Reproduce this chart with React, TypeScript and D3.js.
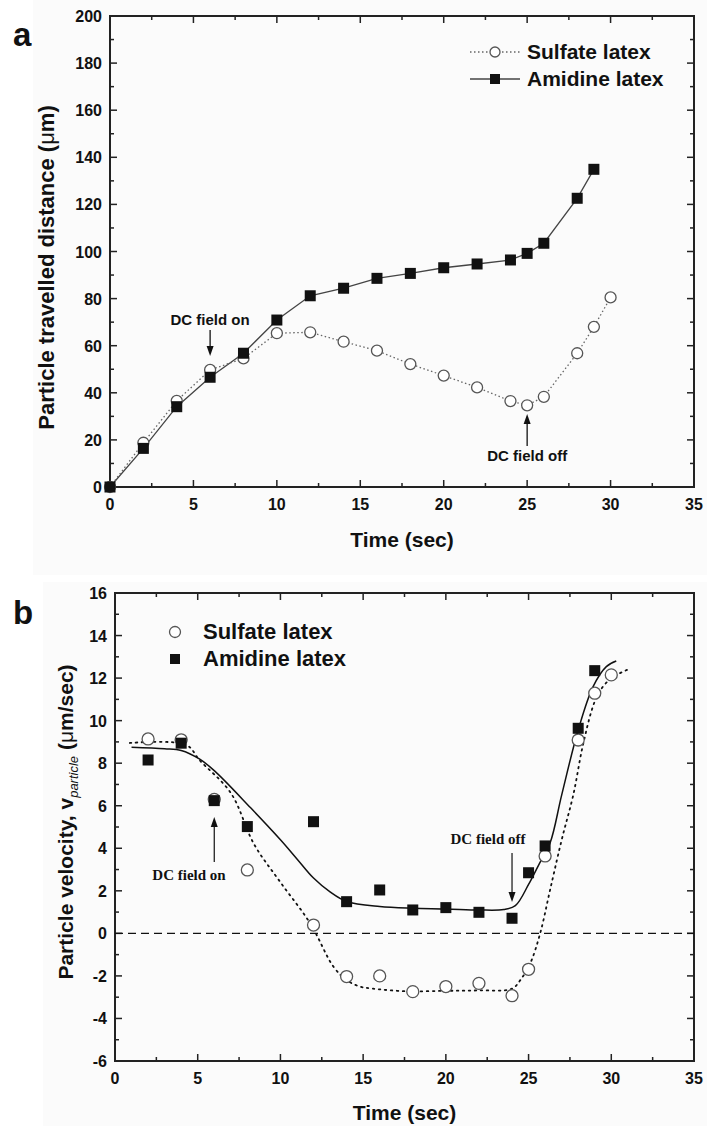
import React from 'react';
import * as d3 from 'd3';

// panel a: travelled distance (um)
const timeSulfateA = [0, 2, 4, 6, 8, 10, 12, 14, 16, 18, 20, 22, 24, 25, 26, 28, 29, 30];
const distSulfateA = [0, 18.8, 36.6, 49.7, 54.6, 65.3, 65.7, 61.7, 57.9, 52.2, 47.3, 42.3, 36.5, 34.7, 38.3, 56.8, 68, 80.5];
const timeAmidineA = [0, 2, 4, 6, 8, 10, 12, 14, 16, 18, 20, 22, 24, 25, 26, 28, 29];
const distAmidineA = [0, 16.4, 34.1, 46.6, 56.8, 70.9, 81.2, 84.4, 88.6, 90.7, 93.1, 94.7, 96.4, 99.2, 103.5, 122.6, 134.9];

// panel b: velocity (um/sec)
const timeSulfateB = [2, 4, 6, 8, 12, 14, 16, 18, 20, 22, 24, 25, 26, 28, 29, 30];
const velSulfateB = [9.14, 9.1, 6.3, 2.98, 0.39, -2.03, -2.0, -2.74, -2.5, -2.35, -2.93, -1.69, 3.64, 9.09, 11.29, 12.15];
const timeAmidineB = [2, 4, 6, 8, 12, 14, 16, 18, 20, 22, 24, 25, 26, 28, 29];
const velAmidineB = [8.15, 8.94, 6.24, 5.02, 5.25, 1.49, 2.04, 1.1, 1.21, 0.99, 0.71, 2.85, 4.11, 9.64, 12.35];

// fitted curves in panel b
const fitSulfateT = [0.9, 4.3, 5.1, 7.0, 8.4, 10, 11.8, 13.2, 14.0, 14.8, 15.6, 17.6, 20, 22, 24, 24.5, 25.1, 25.7, 26.3, 27.0, 27.7, 28.3, 29.0, 29.5, 30.1, 31.0];
const fitSulfateV = [8.95, 8.86, 8.15, 6.6, 4.2, 2.4, 0.47, -1.56, -2.2, -2.5, -2.6, -2.72, -2.7, -2.68, -2.6, -2.2, -1.41, 0, 2.04, 4.39, 6.5, 8.9, 10.9, 11.6, 12.05, 12.4];
const fitAmidineT = [1, 3, 4, 5.1, 6, 8.2, 10, 11, 12, 13, 14, 16, 18, 20, 22, 23.5, 24.2, 25, 25.6, 26.3, 27, 28, 28.9, 29.7, 30.3];
const fitAmidineV = [8.75, 8.68, 8.6, 8.2, 7.65, 5.9, 4.4, 3.5, 2.6, 1.95, 1.5, 1.26, 1.18, 1.15, 1.1, 1.12, 1.3, 2.3, 3.2, 4.25, 6.5, 9.56, 11.6, 12.54, 12.8];

const xTicks = [0, 5, 10, 15, 20, 25, 30, 35];
const yTicksA = [0, 20, 40, 60, 80, 100, 120, 140, 160, 180, 200];
const yTicksB = [-6, -4, -2, 0, 2, 4, 6, 8, 10, 12, 14, 16];

const sans = '"Liberation Sans", Arial, sans-serif';
const serif = '"Liberation Serif", "Times New Roman", serif';

type Pt = [number, number];
const zip = (a: number[], b: number[]): Pt[] => a.map((v, i) => [v, b[i]]);

function Frame({ x, y, yTicks, yMinorStep, labelX }: any) {
  const [x0, x1] = x.range();
  const [y0, y1] = y.range();
  const xMinor = d3.range(0, 35.01, 2.5);
  const yMinor = d3.range(y.domain()[0], y.domain()[1] + 0.01, yMinorStep);
  return (
    <g>
      {xMinor.map((t: number) => {
        const major = t % 5 === 0;
        const l = major ? 7 : 4;
        return (
          <g key={'x' + t}>
            <line x1={x(t)} x2={x(t)} y1={y0} y2={y0 - l} stroke="#222" strokeWidth={1.5} />
            <line x1={x(t)} x2={x(t)} y1={y1} y2={y1 + l} stroke="#222" strokeWidth={1.5} />
          </g>
        );
      })}
      {yMinor.map((v: number) => {
        const major = yTicks.includes(Math.round(v * 100) / 100);
        const l = major ? 7 : 4;
        return (
          <g key={'y' + v}>
            <line x1={x0} x2={x0 + l} y1={y(v)} y2={y(v)} stroke="#222" strokeWidth={1.5} />
            <line x1={x1} x2={x1 - l} y1={y(v)} y2={y(v)} stroke="#222" strokeWidth={1.5} />
          </g>
        );
      })}
      <rect x={x0} y={y1} width={x1 - x0} height={y0 - y1} fill="none" stroke="#222" strokeWidth={2} />
      {xTicks.map((t) => (
        <text key={'xl' + t} x={x(t)} y={y0 + 23} textAnchor="middle" fontFamily={sans} fontWeight="bold" fontSize={16} fill="#111">
          {t}
        </text>
      ))}
      {yTicks.map((v: number) => (
        <text key={'yl' + v} x={x0 - labelX} y={y(v) + 6} textAnchor="end" fontFamily={sans} fontWeight="bold" fontSize={16} fill="#111">
          {v}
        </text>
      ))}
    </g>
  );
}

function Circles({ data, x, y, r = 5.5 }: any) {
  return (
    <g>
      {data.map((d: Pt, i: number) => (
        <circle key={i} cx={x(d[0])} cy={y(d[1])} r={r} fill="#fff" stroke="#555" strokeWidth={1.3} />
      ))}
    </g>
  );
}

function Squares({ data, x, y, s = 11 }: any) {
  return (
    <g>
      {data.map((d: Pt, i: number) => (
        <rect key={i} x={x(d[0]) - s / 2} y={y(d[1]) - s / 2} width={s} height={s} fill="#111" />
      ))}
    </g>
  );
}

function Arrow({ x, yFrom, yTo, sw = 1.3 }: any) {
  const dir = yTo > yFrom ? 1 : -1;
  return (
    <g>
      <line x1={x} x2={x} y1={yFrom} y2={yTo - dir * 8} stroke="#111" strokeWidth={sw} />
      <path d={`M${x - 3.5},${yTo - dir * 10}L${x},${yTo}L${x + 3.5},${yTo - dir * 10}Z`} fill="#111" />
    </g>
  );
}

export default function App() {
  // panel a
  const xa = d3.scaleLinear().domain([0, 35]).range([110, 694]);
  const ya = d3.scaleLinear().domain([0, 200]).range([487, 16]);
  const lineA = d3.line<Pt>().x((d) => xa(d[0])).y((d) => ya(d[1]));
  const sulfA = zip(timeSulfateA, distSulfateA);
  const amidA = zip(timeAmidineA, distAmidineA);

  // panel b
  const xb = d3.scaleLinear().domain([0, 35]).range([115, 694]);
  const yb = d3.scaleLinear().domain([-6, 16]).range([1061, 593]);
  const lineB = d3.line<Pt>().x((d) => xb(d[0])).y((d) => yb(d[1])).curve(d3.curveCatmullRom);
  const sulfB = zip(timeSulfateB, velSulfateB);
  const amidB = zip(timeAmidineB, velAmidineB);

  return (
    <svg width={707} height={1126} style={{ position: 'absolute', left: 0, top: 0 }}>
      <rect x={0} y={0} width={707} height={1126} fill="#fff" />
      <rect x={33} y={0} width={674} height={575} fill="#fbfbfb" />
      <rect x={43} y={582} width={664} height={544} fill="#fbfbfb" />

      {/* ---- panel a ---- */}
      <text x={13} y={46} fontFamily={sans} fontWeight="bold" fontSize={33} fill="#111">a</text>
      <Frame x={xa} y={ya} yTicks={yTicksA} yMinorStep={10} labelX={8} />
      <path d={lineA(amidA) || ''} fill="none" stroke="#444" strokeWidth={1.3} />
      <path d={lineA(sulfA) || ''} fill="none" stroke="#666" strokeWidth={1.3} strokeDasharray="1.5,2.5" />
      <Circles data={sulfA} x={xa} y={ya} />
      <Squares data={amidA} x={xa} y={ya} />

      <text x={xa(6)} y={325} textAnchor="middle" fontFamily={sans} fontWeight="bold" fontSize={15} fill="#111">DC field on</text>
      <Arrow x={xa(6)} yFrom={330} yTo={356} />
      <text x={xa(25)} y={461} textAnchor="middle" fontFamily={sans} fontWeight="bold" fontSize={15} fill="#111">DC field off</text>
      <Arrow x={xa(25)} yFrom={446} yTo={414} />

      <g fontFamily={sans} fontWeight="bold" fontSize={21} fill="#111">
        <line x1={470} x2={520} y1={52} y2={52} stroke="#666" strokeWidth={1.3} strokeDasharray="1.5,2.5" />
        <circle cx={495} cy={52} r={5} fill="#fff" stroke="#555" strokeWidth={1.3} />
        <text x={527} y={59}>Sulfate latex</text>
        <line x1={470} x2={520} y1={79} y2={79} stroke="#444" strokeWidth={1.3} />
        <rect x={490} y={74} width={10} height={10} fill="#111" />
        <text x={527} y={86}>Amidine latex</text>
      </g>

      <text transform={`translate(54,${(487 + 16) / 2 + 16}) rotate(-90)`} textAnchor="middle" fontFamily={sans} fontWeight="bold" fontSize={22} fill="#111">
        Particle travelled distance (<tspan fontWeight="normal">μ</tspan>m)
      </text>
      <text x={(110 + 694) / 2} y={547} textAnchor="middle" fontFamily={sans} fontWeight="bold" fontSize={21} fill="#111">Time (sec)</text>

      {/* ---- panel b ---- */}
      <text x={13} y={624} fontFamily={sans} fontWeight="bold" fontSize={33} fill="#111">b</text>
      <Frame x={xb} y={yb} yTicks={yTicksB} yMinorStep={1} labelX={8} />
      <line x1={xb(0)} x2={xb(35)} y1={yb(0)} y2={yb(0)} stroke="#111" strokeWidth={1.4} strokeDasharray="8,5" />
      <path d={lineB(zip(fitAmidineT, fitAmidineV)) || ''} fill="none" stroke="#111" strokeWidth={1.5} />
      <path d={lineB(zip(fitSulfateT, fitSulfateV)) || ''} fill="none" stroke="#111" strokeWidth={1.8} strokeDasharray="1.5,4.5" strokeLinecap="round" />
      <Circles data={sulfB} x={xb} y={yb} r={6} />
      <Squares data={amidB} x={xb} y={yb} s={11} />

      <text x={189} y={880} textAnchor="middle" fontFamily={serif} fontWeight="bold" fontSize={15} fill="#111">DC field on</text>
      <Arrow x={xb(6)} yFrom={862} yTo={817} sw={1.2} />
      <text x={488} y={844} textAnchor="middle" fontFamily={serif} fontWeight="bold" fontSize={15} fill="#111">DC field off</text>
      <Arrow x={xb(24)} yFrom={853} yTo={902} sw={1.2} />

      <g fontFamily={sans} fontWeight="bold" fontSize={22} fill="#111">
        <circle cx={175} cy={632} r={5.5} fill="#fff" stroke="#555" strokeWidth={1.3} />
        <text x={203} y={639}>Sulfate latex</text>
        <rect x={170} y={654} width={10} height={10} fill="#111" />
        <text x={203} y={666}>Amidine latex</text>
      </g>

      <text transform={`translate(73,${(1061 + 593) / 2 - 5}) rotate(-90)`} textAnchor="middle" fontFamily={sans} fontWeight="bold" fontSize={21} fill="#111">
        Particle velocity, v<tspan fontSize={13} fontStyle="italic" fontWeight="normal" dy={5}>particle</tspan>
        <tspan dy={-5}> (<tspan fontWeight="normal">μ</tspan>m/sec)</tspan>
      </text>
      <text x={(115 + 694) / 2} y={1120} textAnchor="middle" fontFamily={sans} fontWeight="bold" fontSize={21} fill="#111">Time (sec)</text>
    </svg>
  );
}
